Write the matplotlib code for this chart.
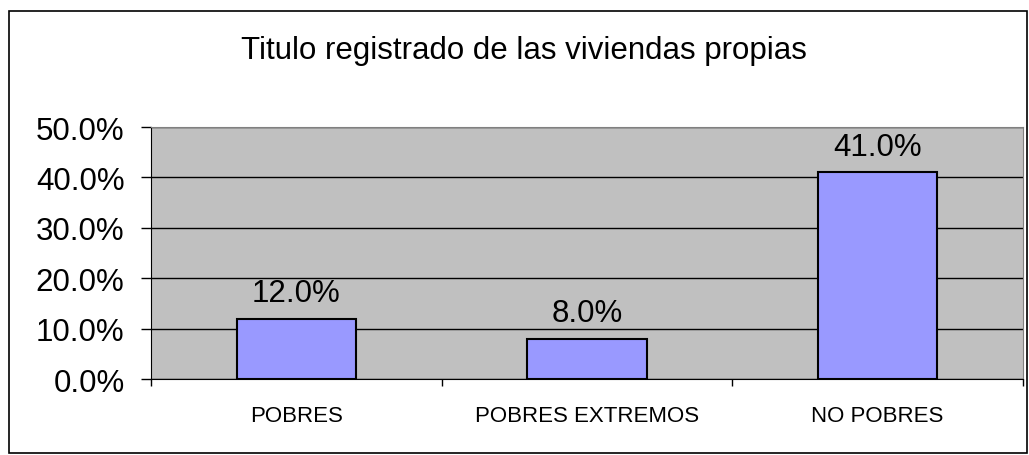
import matplotlib.pyplot as plt
from matplotlib.patches import Rectangle

categorias = ['POBRES', 'POBRES EXTREMOS', 'NO POBRES']
valores = [12.0, 8.0, 41.0]
y_ticks = [0, 10, 20, 30, 40, 50]
titulo = 'Titulo registrado de las viviendas propias'

W, H = 1029, 456
fig = plt.figure(figsize=(W / 100, H / 100), dpi=100)

# marco exterior del grafico
fig.patches.append(Rectangle((9 / W, 1 - 454 / H), (1027 - 9) / W, (454 - 12) / H,
                             transform=fig.transFigure, fill=False,
                             edgecolor='black', linewidth=1.2))

ax = fig.add_axes([151 / W, 1 - 380 / H, (1023 - 151) / W, (380 - 128) / H])
ax.set_facecolor('#C0C0C0')

x = list(range(len(categorias)))
ax.bar(x, valores, width=0.41, color='#9999FF', edgecolor='black', linewidth=1.5, zorder=3)

for xi, v in zip(x, valores):
    ax.text(xi, v + 3.5, f'{v:.1f}%', ha='center', va='baseline',
            fontsize=22.5, family='Liberation Sans')

ax.set_xlim(-0.5, 2.5)
ax.set_ylim(0, 50)
ax.set_yticks(y_ticks)
ax.set_yticklabels([f'{t:.1f}%' for t in y_ticks], fontsize=22.5, family='Liberation Sans')
ax.yaxis.grid(True, color='black', linewidth=1)
ax.set_axisbelow(True)
ax.tick_params(axis='y', length=7, width=1, pad=12)

ax.set_xticks(x)
ax.set_xticklabels(categorias, fontsize=16, family='Liberation Sans')
ax.set_xticks([-0.5, 0.5, 1.5, 2.5], minor=True)
ax.tick_params(axis='x', which='major', length=0, pad=19)
ax.tick_params(axis='x', which='minor', length=5, width=1)

for s in ['top', 'right']:
    ax.spines[s].set_color('#808080')
ax.spines['left'].set_color('black')
ax.spines['bottom'].set_color('black')

fig.text(524 / W, 1 - 59 / H, titulo, ha='center', va='baseline',
         fontsize=22.5, family='Liberation Sans')

fig.savefig('out.png', dpi=100)
